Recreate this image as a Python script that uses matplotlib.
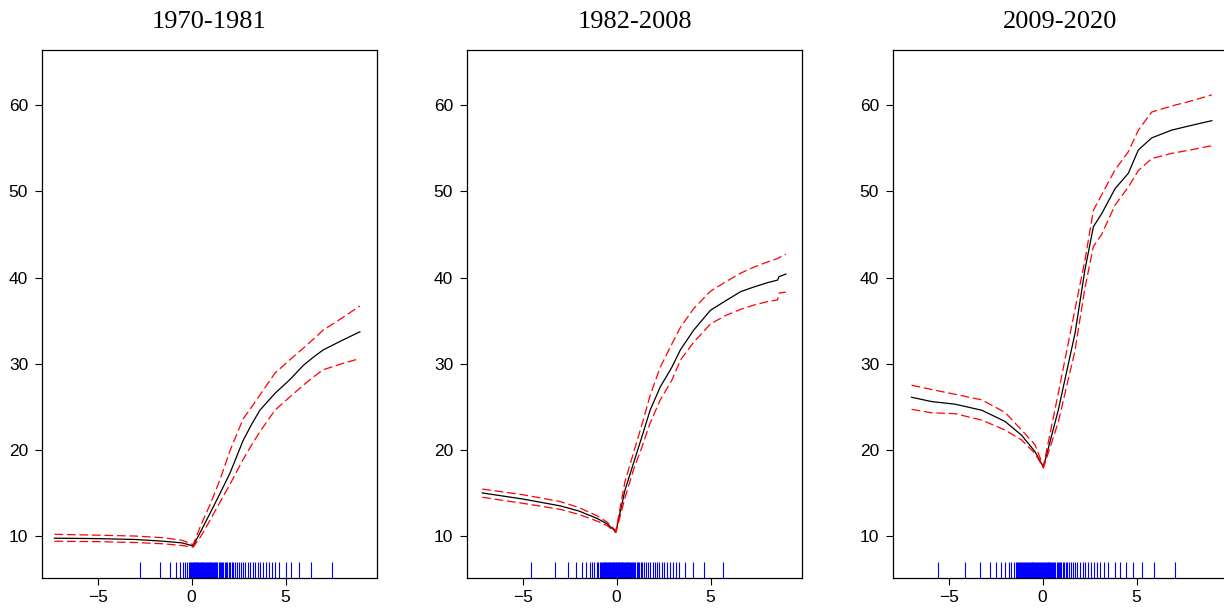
import matplotlib
matplotlib.use("Agg")
import matplotlib.pyplot as plt

titles = ["1970-1981", "1982-2008", "2009-2020"]

# panel 1: 1970-1981
x1_fit = [-7.3, -5.0, -3.0, -1.5, -0.5, 0.08, 0.5, 0.97, 1.5, 2.04, 2.74, 3.2, 3.63, 4.43, 5.2, 5.94, 6.5, 7.0, 8.0, 8.95]
y1_fit = [9.75, 9.7, 9.6, 9.4, 9.2, 8.85, 10.6, 12.6, 14.9, 17.3, 21.1, 23.0, 24.6, 26.55, 28.1, 29.8, 30.8, 31.6, 32.7, 33.7]
y1_up = [10.2, 10.1, 10.0, 9.8, 9.5, 9.0, 11.3, 13.6, 16.5, 19.9, 23.6, 25.0, 26.35, 28.9, 30.4, 31.8, 32.9, 33.9, 35.3, 36.7]
y1_lo = [9.4, 9.35, 9.25, 9.1, 8.9, 8.7, 10.0, 11.8, 13.9, 16.0, 18.9, 20.6, 22.1, 24.6, 26.1, 27.5, 28.5, 29.3, 30.0, 30.6]
rug1 = [-2.73, -1.68, -1.16, -0.84, -0.63, -0.48, -0.34, -0.23, -0.14,
        -0.08, -0.03, 0.02, 0.06, 0.1, 0.14, 0.18, 0.22, 0.27, 0.31, 0.35, 0.4, 0.44,
        0.48, 0.53, 0.57, 0.62, 0.66, 0.71, 0.75, 0.8, 0.85, 0.9, 0.95, 1.0, 1.05,
        1.1, 1.15, 1.2, 1.26, 1.31, 1.37, 1.43, 1.49, 1.55, 1.61, 1.68, 1.75, 1.82,
        1.9, 1.97, 2.05, 2.13, 2.21, 2.3, 2.4, 2.5, 2.6,
        2.71, 2.86, 2.98, 3.13, 3.27, 3.39, 3.52, 3.66, 3.8, 3.95, 4.13, 4.25, 4.43,
        4.66, 5.0, 5.3, 5.71, 6.36, 7.46]

# panel 2: 1982-2008
x2_fit = [-7.15, -5.0, -3.0, -2.0, -1.0, -0.5, -0.04, 0.44, 0.89, 1.34, 1.78, 2.32, 2.94, 3.39, 4.1, 4.99, 5.8, 6.59, 7.3, 8.02, 8.56, 8.64, 9.0]
y2_fit = [15.0, 14.3, 13.5, 12.9, 12.0, 11.4, 10.5, 15.3, 18.4, 21.5, 24.6, 27.3, 29.6, 31.6, 33.9, 36.2, 37.3, 38.35, 38.9, 39.4, 39.7, 40.1, 40.4]
y2_up = [15.45, 14.8, 14.0, 13.3, 12.3, 11.6, 10.6, 16.3, 19.6, 22.9, 26.3, 29.6, 32.3, 34.2, 36.4, 38.4, 39.5, 40.5, 41.2, 41.8, 42.2, 42.3, 42.7]
y2_lo = [14.5, 13.8, 13.1, 12.5, 11.7, 11.2, 10.4, 14.4, 17.65, 20.3, 23.1, 25.8, 28.1, 30.4, 32.5, 34.6, 35.6, 36.3, 36.8, 37.2, 37.4, 38.2, 38.3]
rug2 = [-4.55, -3.27, -2.57, -2.14, -1.82, -1.61, -1.43, -1.29, -1.18, -1.07, -0.98,
        -0.89, -0.84, -0.79, -0.74, -0.69, -0.64, -0.6, -0.55, -0.51, -0.46, -0.42,
        -0.38, -0.33, -0.29, -0.25, -0.21, -0.17, -0.13, -0.09, -0.05, -0.01, 0.03,
        0.07, 0.11, 0.15, 0.19, 0.23, 0.27, 0.31, 0.35, 0.4, 0.44, 0.48, 0.53, 0.57,
        0.62, 0.67, 0.72, 0.77, 0.82, 0.88, 0.94, 1.0, 1.06, 1.13, 1.2, 1.28, 1.36,
        1.45, 1.55, 1.66, 1.79,
        1.91, 2.02, 2.14, 2.27, 2.39, 2.54, 2.68, 2.82, 3.0, 3.14, 3.32, 3.63, 4.04,
        4.64, 5.68]

# panel 3: 2009-2020
x3_fit = [-6.97, -5.9, -4.66, -3.24, -2.0, -1.12, -0.41, 0.04, 0.83, 1.72, 2.25, 2.7, 3.14, 3.85, 4.56, 5.09, 5.8, 6.86, 8.1, 9.0]
y3_fit = [26.1, 25.6, 25.3, 24.6, 23.3, 21.7, 19.8, 18.0, 24.6, 33.5, 40.9, 45.9, 47.4, 50.3, 52.1, 54.8, 56.2, 57.1, 57.75, 58.2]
y3_up = [27.5, 27.0, 26.45, 25.8, 24.35, 22.3, 20.6, 18.1, 26.55, 36.3, 42.0, 47.8, 49.6, 52.5, 54.6, 57.1, 59.2, 59.9, 60.6, 61.2]
y3_lo = [24.7, 24.3, 24.2, 23.45, 22.3, 21.15, 19.6, 17.9, 23.2, 31.5, 38.8, 43.6, 45.0, 48.4, 50.5, 52.4, 53.8, 54.4, 54.9, 55.3]
rug3 = [-5.55, -4.11, -3.33, -2.82, -2.46, -2.2, -1.99, -1.81, -1.67, -1.54, -1.44, -1.35,
        -1.29, -1.24, -1.19, -1.14, -1.09, -1.04, -0.99, -0.94, -0.89, -0.84, -0.79,
        -0.74, -0.69, -0.64, -0.59, -0.54, -0.49, -0.44, -0.39, -0.34, -0.29, -0.24,
        -0.19, -0.14, -0.09, -0.04, 0.01, 0.06, 0.11, 0.16, 0.21, 0.26, 0.31, 0.36,
        0.41, 0.46, 0.51, 0.56, 0.62, 0.68, 0.74, 0.8, 0.86, 0.93, 1.0, 1.07, 1.15,
        1.23, 1.32, 1.41, 1.5, 1.6, 1.7,
        1.84, 1.99, 2.13, 2.27, 2.41, 2.57, 2.73, 2.89, 3.07, 3.26, 3.49, 3.87, 4.11,
        4.43, 4.82, 5.28, 5.9, 7.04]

panels = [
    (x1_fit, y1_fit, y1_up, y1_lo, rug1),
    (x2_fit, y2_fit, y2_up, y2_lo, rug2),
    (x3_fit, y3_fit, y3_up, y3_lo, rug3),
]

fig = plt.figure(figsize=(12.24, 6.12), dpi=100)
lefts = [42 / 1224, 467 / 1224, 893 / 1224]
dash = (0, (7, 3))

for i, (xf, yf, yu, yl, rug) in enumerate(panels):
    ax = fig.add_axes([lefts[i], 34 / 612, 335 / 1224, 528 / 612])
    ax.plot(xf, yf, color='black', lw=0.9)
    ax.plot(xf, yu, color='red', lw=0.9, linestyle=dash)
    ax.plot(xf, yl, color='red', lw=0.9, linestyle=dash)
    ax.vlines(rug, 0, 0.03, color='blue', lw=0.8, transform=ax.get_xaxis_transform())
    ax.set_xlim(-7.96, 9.86)
    ax.set_ylim(5.13, 66.4)
    ax.set_xticks([-5, 0, 5])
    ax.set_yticks([10, 20, 30, 40, 50, 60])
    ax.tick_params(direction='out', length=5, width=0.8, labelsize=12.5)
    ax.tick_params(axis='y', pad=5)
    ax.tick_params(axis='x', pad=4)
    for s in ax.spines.values():
        s.set_linewidth(0.9)
    ax.set_title(titles[i], fontsize=19, family='Liberation Serif', pad=16)
    for lab in ax.get_xticklabels() + ax.get_yticklabels():
        lab.set_family('Liberation Sans')

fig.savefig('out.png', dpi=100)
